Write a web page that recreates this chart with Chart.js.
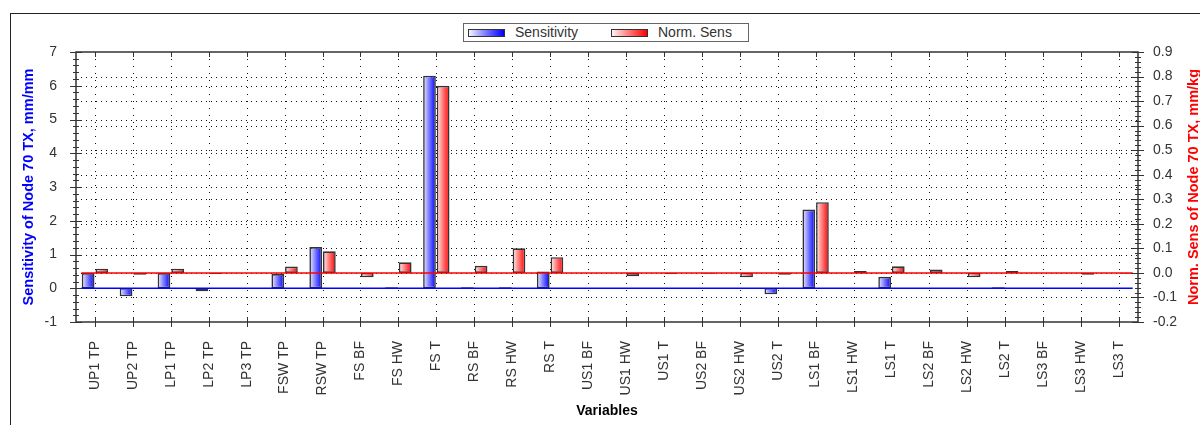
<!DOCTYPE html>
<html><head><meta charset="utf-8">
<script src="https://cdn.jsdelivr.net/npm/chart.js@4.4.1/dist/chart.umd.min.js"></script>
<style>
html,body{margin:0;padding:0;background:#fff;}
#wrap{position:relative;width:1200px;height:425px;overflow:hidden;}
#frame{position:absolute;left:10px;top:13px;width:1300px;height:500px;border-left:1px solid #222;border-top:1px solid #222;}
#c{position:absolute;left:0;top:0;}
#legend{position:absolute;left:463px;top:23px;width:284px;height:17px;border:1px solid #666;font:14px "Liberation Sans",Arial,sans-serif;color:#333;background:#fff;}
.sw{position:absolute;top:5px;width:35px;height:6px;border:1px solid #333;}
.lt{position:absolute;top:0;line-height:17px;white-space:nowrap;}
</style></head>
<body>
<div id="wrap">
<div id="frame"></div>
<canvas id="c" width="1200" height="425"></canvas>
<div id="legend">
  <div class="sw" style="left:4px;background:linear-gradient(to right,#f4f4ff,#6a6aff 55%,#0000ff);"></div>
  <div class="lt" style="left:51px;">Sensitivity</div>
  <div class="sw" style="left:147px;background:linear-gradient(to right,#fff4f4,#ff6a6a 55%,#ff0000);"></div>
  <div class="lt" style="left:194px;">Norm. Sens</div>
</div>
</div>
<script>
const categories = ['UP1 TP','UP2 TP','LP1 TP','LP2 TP','LP3 TP','FSW TP','RSW TP','FS BF','FS HW','FS T',
  'RS BF','RS HW','RS T','US1 BF','US1 HW','US1 T','US2 BF','US2 HW','US2 T','LS1 BF','LS1 HW','LS1 T',
  'LS2 BF','LS2 HW','LS2 T','LS3 BF','LS3 HW','LS3 T'];
const sensitivity = [0.45,-0.24,0.45,-0.09,0,0.42,1.22,0,0.03,6.3,
  0.03,0.03,0.5,0,0,0,0,0,-0.18,2.33,0,0.34,
  0,0,0.03,0,0,0];
const normSens = [0.017,-0.008,0.017,-0.004,0,0.026,0.088,-0.018,0.043,0.762,
  0.029,0.1,0.064,0,-0.014,-0.004,-0.003,-0.018,-0.007,0.288,0.008,0.027,
  0.014,-0.018,0.008,0,-0.007,-0.003];
const leftRange = [-1, 7];
const rightRange = [-0.2, 0.9];
const seriesNames = ['Sensitivity','Norm. Sens'];
const axisTitles = ['Sensitivity of Node 70 TX, mm/mm','Norm. Sens of Node 70 TX, mm/kg','Variables'];

const FONT = '"Liberation Sans", Arial, sans-serif';
const gradStops = [
  ['#f0f0ff','#6a6aff','#0000ff'],
  ['#fff0f0','#ff6a6a','#ff0000']
];
const CAT_PCT = 0.72, BAR_PCT = 0.93;

const decor = {
  id:'decor',
  beforeDatasetsDraw(chart){
    const {ctx, chartArea:a, scales} = chart;
    const {x, y, y1} = scales;
    ctx.save();
    ctx.strokeStyle = '#111';
    ctx.lineWidth = 1;
    ctx.setLineDash([1,4]);
    [y, y1].forEach(s=>{
      s.ticks.forEach(t=>{
        if (t.value <= s.min + 1e-9 || t.value >= s.max - 1e-9) return;
        const py = Math.round(s.getPixelForValue(t.value)) + 0.5;
        ctx.beginPath(); ctx.moveTo(a.left, py); ctx.lineTo(a.right, py); ctx.stroke();
      });
    });
    ctx.setLineDash([1,6]);
    x.ticks.forEach((t,i)=>{
      const px = Math.round(x.getPixelForTick(i)) + 0.5;
      ctx.beginPath(); ctx.moveTo(px, a.top); ctx.lineTo(px, a.bottom); ctx.stroke();
    });
    ctx.restore();
    chart.data.datasets.forEach((ds,di)=>{
      const meta = chart.getDatasetMeta(di);
      meta.data.forEach(el=>{
        const g = ctx.createLinearGradient(el.x - el.width/2, 0, el.x + el.width/2, 0);
        g.addColorStop(0, gradStops[di][0]);
        g.addColorStop(0.55, gradStops[di][1]);
        g.addColorStop(1, gradStops[di][2]);
        el.options = Object.assign({}, el.options, {backgroundColor:g});
      });
    });
  },
  afterDatasetsDraw(chart){
    const {ctx, chartArea:a, scales} = chart;
    const {x, y, y1} = scales;
    const catW = (a.right - a.left) / categories.length;
    const x0 = x.getPixelForTick(0) - catW*CAT_PCT/2;
    const x1 = x.getPixelForTick(categories.length-1) + catW*CAT_PCT/2;
    ctx.save();
    ctx.lineWidth = 1.5;
    ctx.strokeStyle = '#0000ff';
    let py = y.getPixelForValue(0);
    ctx.beginPath(); ctx.moveTo(x0, py); ctx.lineTo(x1, py); ctx.stroke();
    ctx.strokeStyle = '#ff0000';
    py = y1.getPixelForValue(0);
    ctx.beginPath(); ctx.moveTo(x0, py); ctx.lineTo(x1, py); ctx.stroke();
    // frame
    ctx.strokeStyle = '#333';
    ctx.lineWidth = 1.5;
    ctx.strokeRect(a.left, a.top, a.right - a.left, a.bottom - a.top);
    ctx.lineWidth = 1;
    const tick = (xa, ya, xb, yb)=>{ctx.beginPath(); ctx.moveTo(xa, ya); ctx.lineTo(xb, yb); ctx.stroke();};
    for (let k = 0; k <= 40; k++) {
      const v = leftRange[0] + k*0.2;
      const p = Math.round(y.getPixelForValue(v)) + 0.5;
      const L = (k % 5 === 0) ? 6 : 3;
      tick(a.left - L, p, a.left + L, p);
    }
    for (let k = 0; k <= 55; k++) {
      const v = rightRange[0] + k*0.02;
      const p = Math.round(y1.getPixelForValue(v)) + 0.5;
      const L = (k % 5 === 0) ? 6 : 3;
      tick(a.right - L, p, a.right + L, p);
    }
    x.ticks.forEach((t,i)=>{
      const p = Math.round(x.getPixelForTick(i)) + 0.5;
      tick(p, a.bottom - 5, p, a.bottom + 5);
      tick(p, a.top, p, a.top + 5);
    });
    ctx.restore();
  },
  afterDraw(chart){
    const {ctx, chartArea:a} = chart;
    ctx.save();
    ctx.translate(1194, (a.top + a.bottom)/2);
    ctx.rotate(-Math.PI/2);
    ctx.textAlign = 'center';
    ctx.textBaseline = 'middle';
    ctx.fillStyle = '#ff0000';
    ctx.font = 'bold 14.5px ' + FONT;
    ctx.fillText(axisTitles[1], 0, 0);
    ctx.restore();
  }
};

new Chart(document.getElementById('c'), {
  type:'bar',
  data:{
    labels: categories,
    datasets:[
      {label:seriesNames[0], data:sensitivity, yAxisID:'y', backgroundColor:'#0000ff', borderColor:'#333', borderWidth:1.6, borderSkipped:false, categoryPercentage:CAT_PCT, barPercentage:BAR_PCT},
      {label:seriesNames[1], data:normSens, yAxisID:'y1', backgroundColor:'#ff0000', borderColor:'#333', borderWidth:1.6, borderSkipped:false, categoryPercentage:CAT_PCT, barPercentage:BAR_PCT}
    ]
  },
  options:{
    responsive:false,
    animation:false,
    events:[],
    layout:{padding:{left:0,right:0,top:52,bottom:0}},
    plugins:{legend:{display:false}, tooltip:{enabled:false}},
    scales:{
      x:{
        offset:true,
        grid:{display:false, drawTicks:false},
        border:{display:false},
        ticks:{autoSkip:false, minRotation:90, maxRotation:90, padding:19, color:'#333', font:{family:FONT, size:14}},
        title:{display:true, text:axisTitles[2], color:'#000', font:{family:FONT, size:14, weight:'bold', lineHeight:1}, padding:{top:0, bottom:6.5}},
        afterFit(s){ s.height = 103; }
      },
      y:{
        position:'left',
        min:leftRange[0], max:leftRange[1],
        grid:{display:false, drawTicks:false},
        border:{display:false},
        ticks:{stepSize:1, padding:19, color:'#333', font:{family:FONT, size:14}},
        title:{display:true, text:axisTitles[0], color:'#0000ff', font:{family:FONT, size:14.5, weight:'bold', lineHeight:1}, padding:{top:22, bottom:0}},
        afterFit(s){ s.width = 76; }
      },
      y1:{
        position:'right',
        min:rightRange[0], max:rightRange[1],
        grid:{display:false, drawTicks:false},
        border:{display:false},
        ticks:{stepSize:0.1, padding:15, color:'#333', font:{family:FONT, size:14}, callback:v=>Number(v).toFixed(1)},
        afterFit(s){ s.width = 62; }
      }
    }
  },
  plugins:[decor]
});
</script>
</body></html>
